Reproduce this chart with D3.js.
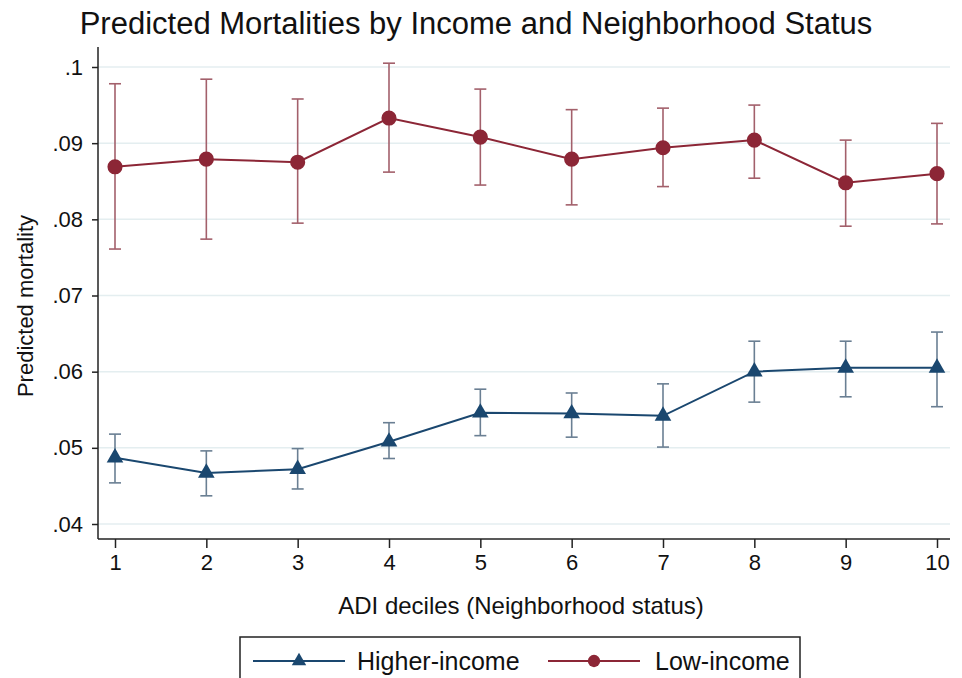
<!DOCTYPE html>
<html>
<head>
<meta charset="utf-8">
<script src="https://cdn.jsdelivr.net/npm/d3@7"></script>
<style>
  body { margin: 0; background: #fff; }
  text { font-family: "Liberation Sans", Arial, sans-serif; fill: #111; }
</style>
</head>
<body>
<div id="chart"></div>
<script>
const deciles = [1, 2, 3, 4, 5, 6, 7, 8, 9, 10];

// Higher-income: predicted mortality and 95% CI
const higherMean = [0.0487, 0.0467, 0.0472, 0.0508, 0.0546, 0.0545, 0.0542, 0.0600, 0.0605, 0.0605];
const higherLo   = [0.0454, 0.0437, 0.0446, 0.0486, 0.0516, 0.0514, 0.0501, 0.0560, 0.0567, 0.0554];
const higherHi   = [0.0518, 0.0496, 0.0499, 0.0533, 0.0577, 0.0572, 0.0584, 0.0640, 0.0640, 0.0652];

// Low-income
const lowMean = [0.0869, 0.0879, 0.0875, 0.0933, 0.0908, 0.0879, 0.0894, 0.0904, 0.0848, 0.0860];
const lowLo   = [0.0761, 0.0774, 0.0795, 0.0862, 0.0845, 0.0819, 0.0843, 0.0854, 0.0791, 0.0794];
const lowHi   = [0.0978, 0.0984, 0.0958, 0.1005, 0.0971, 0.0944, 0.0946, 0.0950, 0.0904, 0.0926];

const yTicks = [0.04, 0.05, 0.06, 0.07, 0.08, 0.09, 0.1];
const yTickLabels = [".04", ".05", ".06", ".07", ".08", ".09", ".1"];

const width = 962, height = 678;
const plot = {left: 98, right: 950, top: 47, bottom: 539};

const svg = d3.select("#chart")
  .append("svg")
  .attr("width", width)
  .attr("height", height);

const x = d3.scaleLinear()
  .domain([1, 10])
  .range([115, 937]);

const y = d3.scaleLinear()
  .domain([0.04, 0.1])
  .range([524, 67]);

const red = "#8c2636", redBar = "#a3606b";
const blue = "#1a476f", blueBar = "#6a7f93";

// gridlines
svg.append("g")
  .selectAll("line")
  .data(yTicks)
  .join("line")
    .attr("x1", plot.left)
    .attr("x2", plot.right)
    .attr("y1", d => y(d))
    .attr("y2", d => y(d))
    .attr("stroke", "#e4eef0")
    .attr("stroke-width", 1.5);

// Y axis
const yAxis = svg.append("g")
  .attr("transform", `translate(${plot.left}, 0)`)
  .call(d3.axisLeft(y).tickValues(yTicks).tickSize(6).tickPadding(9)
    .tickFormat((d, i) => yTickLabels[i]));
yAxis.select(".domain").remove();
yAxis.selectAll(".tick line").attr("stroke", "#222").attr("stroke-width", 1.5);
yAxis.selectAll(".tick text").style("font-size", "22px").attr("fill", "#111");
svg.append("line")
  .attr("x1", plot.left).attr("x2", plot.left)
  .attr("y1", plot.top).attr("y2", plot.bottom)
  .attr("stroke", "#222").attr("stroke-width", 1.5);

// X axis
const xAxis = svg.append("g")
  .attr("transform", `translate(0, ${plot.bottom})`)
  .call(d3.axisBottom(x).tickValues(deciles).tickSize(9).tickPadding(6).tickFormat(d3.format("d")));
xAxis.select(".domain").remove();
xAxis.selectAll(".tick line").attr("stroke", "#222").attr("stroke-width", 1.5);
xAxis.selectAll(".tick text").style("font-size", "22px").attr("fill", "#111");
svg.append("line")
  .attr("x1", plot.left).attr("x2", plot.right)
  .attr("y1", plot.bottom).attr("y2", plot.bottom)
  .attr("stroke", "#222").attr("stroke-width", 1.5);

// titles
svg.append("text")
  .attr("x", 476).attr("y", 34)
  .attr("text-anchor", "middle")
  .style("font-size", "31px")
  .text("Predicted Mortalities by Income and Neighborhood Status");

svg.append("text")
  .attr("x", 521).attr("y", 614)
  .attr("text-anchor", "middle")
  .style("font-size", "24px")
  .text("ADI deciles (Neighborhood status)");

svg.append("text")
  .attr("transform", "translate(33, 306) rotate(-90)")
  .attr("text-anchor", "middle")
  .style("font-size", "22px")
  .text("Predicted mortality");

// series
const series = [
  {name: "Higher-income", mean: higherMean, lo: higherLo, hi: higherHi, color: blue, bar: blueBar, shape: "triangle"},
  {name: "Low-income", mean: lowMean, lo: lowLo, hi: lowHi, color: red, bar: redBar, shape: "circle"}
];

const line = d3.line()
  .x(d => x(d.decile))
  .y(d => y(d.value));

series.forEach(s => {
  const pts = deciles.map((d, i) => ({decile: d, value: s.mean[i], lo: s.lo[i], hi: s.hi[i]}));
  const g = svg.append("g");

  // error bars
  g.selectAll(".ci")
    .data(pts)
    .join("line")
      .attr("x1", d => x(d.decile)).attr("x2", d => x(d.decile))
      .attr("y1", d => y(d.lo)).attr("y2", d => y(d.hi))
      .attr("stroke", s.bar).attr("stroke-width", 1.6);
  ["lo", "hi"].forEach(k => {
    g.selectAll(".cap-" + k)
      .data(pts)
      .join("line")
        .attr("x1", d => x(d.decile) - 6).attr("x2", d => x(d.decile) + 6)
        .attr("y1", d => y(d[k])).attr("y2", d => y(d[k]))
        .attr("stroke", s.bar).attr("stroke-width", 1.6);
  });

  g.append("path")
    .datum(pts)
    .attr("fill", "none")
    .attr("stroke", s.color)
    .attr("stroke-width", 2)
    .attr("d", line);

  const sym = d3.symbol()
    .type(s.shape === "circle" ? d3.symbolCircle : d3.symbolTriangle)
    .size(s.shape === "circle" ? 180 : 120);
  g.selectAll(".pt")
    .data(pts)
    .join("path")
      .attr("transform", d => `translate(${x(d.decile)}, ${y(d.value)})`)
      .attr("d", sym)
      .attr("fill", s.color);
});

// legend
const legend = svg.append("g");
legend.append("rect")
  .attr("x", 240).attr("y", 637)
  .attr("width", 560).attr("height", 50)
  .attr("fill", "#fff")
  .attr("stroke", "#222").attr("stroke-width", 1.5);

const legendItems = [
  {x0: 253, x1: 345, tx: 357},
  {x0: 548, x1: 640, tx: 655}
];
series.forEach((s, i) => {
  const li = legendItems[i];
  const ly = 661;
  legend.append("line")
    .attr("x1", li.x0).attr("x2", li.x1)
    .attr("y1", ly).attr("y2", ly)
    .attr("stroke", s.color).attr("stroke-width", 2);
  legend.append("path")
    .attr("transform", `translate(${(li.x0 + li.x1) / 2}, ${ly})`)
    .attr("d", d3.symbol()
      .type(s.shape === "circle" ? d3.symbolCircle : d3.symbolTriangle)
      .size(s.shape === "circle" ? 120 : 90))
    .attr("fill", s.color);
  legend.append("text")
    .attr("x", li.tx).attr("y", ly + 9)
    .style("font-size", "25px")
    .text(s.name);
});
</script>
</body>
</html>
